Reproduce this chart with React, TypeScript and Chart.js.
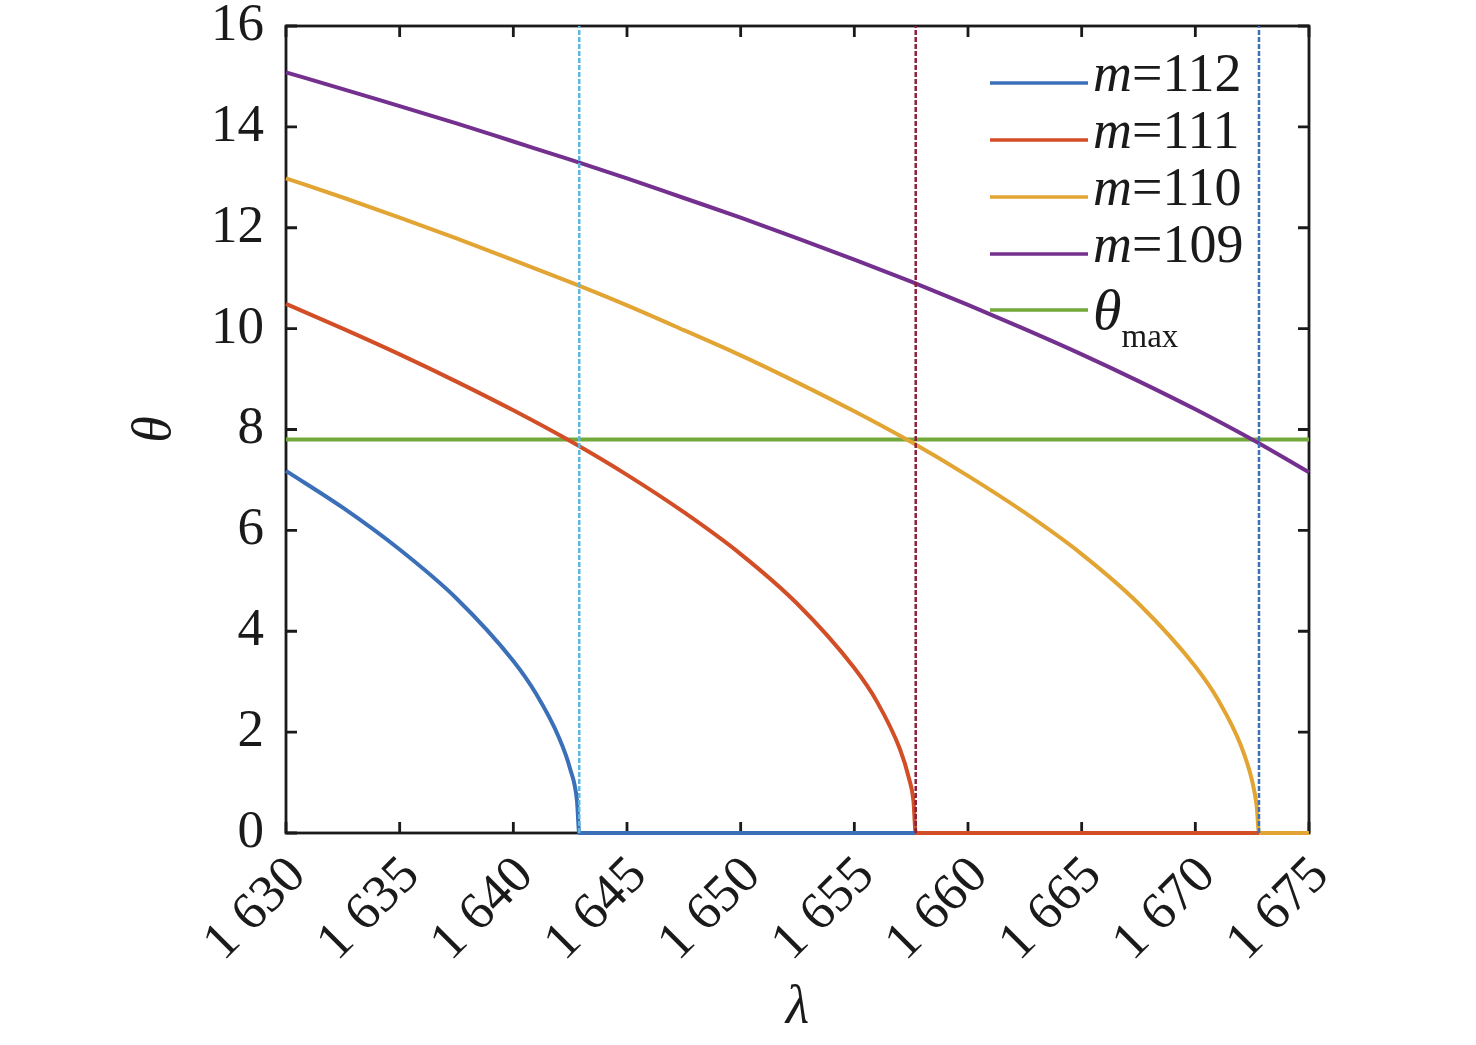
import { useEffect, useRef } from 'react';
import { Chart, registerables } from 'chart.js';

Chart.register(...registerables);

// wavelength (nm) and diffraction angle (deg)
const lambda112 = [1630, 1632.5, 1635, 1637.5, 1640, 1641, 1642, 1642.5, 1642.8, 1642.9, 1657.7];
const theta112 = [7.18, 6.45, 5.62, 4.65, 3.41, 2.76, 1.9, 1.27, 0.64, 0, 0];

const lambda111 = [1630, 1632.5, 1635, 1637.5, 1640, 1642.5, 1645, 1647.5, 1650, 1652.5, 1655, 1656, 1657, 1657.4, 1657.6, 1657.7, 1672.8];
const theta111 = [10.49, 10.0, 9.49, 8.95, 8.38, 7.77, 7.1, 6.36, 5.53, 4.54, 3.27, 2.6, 1.67, 1.09, 0.64, 0, 0];

const lambda110 = [1630, 1632.5, 1635, 1637.5, 1640, 1642.5, 1645, 1647.5, 1650, 1652.5, 1655, 1657.5, 1660, 1662.5, 1665, 1667.5, 1670, 1671, 1672, 1672.5, 1672.7, 1672.8, 1675];
const theta110 = [12.98, 12.6, 12.2, 11.79, 11.36, 10.92, 10.46, 9.97, 9.47, 8.93, 8.36, 7.75, 7.08, 6.35, 5.53, 4.55, 3.3, 2.64, 1.74, 1.03, 0.53, 0, 0];

const lambda109 = [1630, 1632.5, 1635, 1637.5, 1640, 1642.5, 1645, 1647.5, 1650, 1652.5, 1655, 1657.5, 1660, 1662.5, 1665, 1667.5, 1670, 1672.5, 1675];
const theta109 = [15.08, 14.75, 14.41, 14.07, 13.71, 13.35, 12.98, 12.59, 12.2, 11.79, 11.37, 10.93, 10.47, 9.99, 9.49, 8.96, 8.4, 7.8, 7.15];

const thetaMax = 7.8;
const lambdaRange = [1630, 1675];

// vertical dashed markers where each order's angle hits zero
const cutoffLambda = [1642.9, 1657.7, 1672.8];
const cutoffColors = ['#5DB7DF', '#8E1F3C', '#3A70B6'];

const seriesLabels = ['112', '111', '110', '109'];
const seriesColors = ['#3B6FB8', '#D24E27', '#E2A533', '#74308E'];
const maxColor = '#72A93A';

const FONT = "'Liberation Serif', 'Times New Roman', serif";
const INK = '#1a1a1a';

const toPoints = (xs: number[], ys: number[]) => xs.map((x, i) => ({ x, y: ys[i] }));

const framePlugin = {
  id: 'frame',
  beforeDatasetsDraw(chart: any) {
    const { ctx, chartArea } = chart;
    const { left, right, top, bottom } = chartArea;
    const xs = chart.scales.x;
    const ys = chart.scales.y;
    ctx.save();
    ctx.strokeStyle = INK;
    ctx.lineWidth = 2.8;
    ctx.strokeRect(left, top, right - left, bottom - top);
    const tl = 11;
    ctx.beginPath();
    xs.ticks.forEach((t: any) => {
      const px = xs.getPixelForValue(t.value);
      ctx.moveTo(px, bottom);
      ctx.lineTo(px, bottom - tl);
      ctx.moveTo(px, top);
      ctx.lineTo(px, top + tl);
    });
    ys.ticks.forEach((t: any) => {
      const py = ys.getPixelForValue(t.value);
      ctx.moveTo(left, py);
      ctx.lineTo(left + tl, py);
      ctx.moveTo(right, py);
      ctx.lineTo(right - tl, py);
    });
    ctx.stroke();

    // axis titles
    ctx.fillStyle = INK;
    ctx.textAlign = 'center';
    ctx.textBaseline = 'middle';
    ctx.font = `italic 54px ${FONT}`;
    ctx.fillText('λ', (left + right) / 2, bottom + 176);
    ctx.save();
    ctx.translate(left - 130, (top + bottom) / 2);
    ctx.rotate(-Math.PI / 2);
    ctx.fillText('θ', 0, 0);
    ctx.restore();
    ctx.restore();
  },
  afterDatasetsDraw(chart: any) {
    const { ctx } = chart;
    ctx.save();
    // legend
    const lx0 = 990;
    const lx1 = 1088;
    const rows = [83, 140, 197, 254, 310];
    ctx.fillStyle = INK;
    ctx.textAlign = 'left';
    ctx.textBaseline = 'alphabetic';
    ctx.lineWidth = 3.5;
    rows.forEach((ry, i) => {
      ctx.strokeStyle = i < 4 ? seriesColors[i] : maxColor;
      ctx.beginPath();
      ctx.moveTo(lx0, ry);
      ctx.lineTo(lx1, ry);
      ctx.stroke();
      let tx = 1093;
      if (i < 4) {
        ctx.font = `italic 54px ${FONT}`;
        ctx.fillText('m', tx, ry + 8);
        tx += ctx.measureText('m').width;
        ctx.font = `54px ${FONT}`;
        ctx.fillText('=' + seriesLabels[i], tx, ry + 8);
      } else {
        ctx.font = `italic 58px ${FONT}`;
        ctx.fillText('θ', tx, ry + 19);
        tx += ctx.measureText('θ').width;
        ctx.font = `33px ${FONT}`;
        ctx.fillText('max', tx, ry + 37);
      }
    });
    ctx.restore();
  },
};

const App = () => {
  const chartRef = useRef<HTMLCanvasElement>(null);
  const chartInstance = useRef<Chart | null>(null);

  useEffect(() => {
    document.body.style.margin = '0';
    if (!chartRef.current) return;
    if (chartInstance.current) chartInstance.current.destroy();
    const ctx = chartRef.current.getContext('2d');
    if (!ctx) return;

    const curves = [
      toPoints(lambda112, theta112),
      toPoints(lambda111, theta111),
      toPoints(lambda110, theta110),
      toPoints(lambda109, theta109),
    ];

    const datasets: any[] = [];
    cutoffLambda.forEach((l, i) => {
      datasets.push({
        data: [
          { x: l, y: 0 },
          { x: l, y: 16 },
        ],
        borderColor: cutoffColors[i],
        borderWidth: 2.5,
        borderDash: [5, 2],
        pointRadius: 0,
        clip: 4,
      });
    });
    curves.forEach((pts, i) => {
      datasets.push({
        label: 'm=' + seriesLabels[i],
        data: pts,
        borderColor: seriesColors[i],
        borderWidth: 4,
        pointRadius: 0,
        cubicInterpolationMode: 'monotone',
        clip: 4,
      });
    });
    datasets.push({
      label: 'θmax',
      data: lambdaRange.map((x) => ({ x, y: thetaMax })),
      borderColor: maxColor,
      borderWidth: 4,
      pointRadius: 0,
    });

    chartInstance.current = new Chart(ctx, {
      type: 'line',
      data: { datasets },
      options: {
        animation: false,
        responsive: false,
        maintainAspectRatio: false,
        layout: { padding: { top: 26, right: 167, bottom: 0, left: 0 } },
        plugins: { legend: { display: false }, tooltip: { enabled: false } },
        scales: {
          x: {
            type: 'linear',
            min: 1630,
            max: 1675,
            grid: { display: false, drawTicks: false },
            border: { display: false },
            afterFit: (s: any) => {
              s.height = 212;
              s.paddingLeft = 0;
              s.paddingRight = 0;
              s.paddingTop = 0;
              s.paddingBottom = 0;
            },
            ticks: {
              stepSize: 5,
              minRotation: 45,
              maxRotation: 45,
              padding: 12,
              labelOffset: 12,
              color: INK,
              font: { family: FONT, size: 53 },
              callback: (v: any) => {
                const s = String(v);
                return s.slice(0, 1) + ' ' + s.slice(1);
              },
            },
          },
          y: {
            min: 0,
            max: 16,
            grid: { display: false, drawTicks: false },
            border: { display: false },
            afterFit: (s: any) => {
              s.width = 286;
              s.paddingTop = 0;
              s.paddingBottom = 0;
              s.paddingLeft = 0;
              s.paddingRight = 0;
            },
            ticks: {
              stepSize: 2,
              padding: 22,
              color: INK,
              font: { family: FONT, size: 53 },
            },
          },
        },
      },
      plugins: [framePlugin],
    });

    return () => {
      if (chartInstance.current) {
        chartInstance.current.destroy();
        chartInstance.current = null;
      }
    };
  }, []);

  return (
    <div style={{ width: 1476, height: 1045, background: '#fff' }}>
      <canvas ref={chartRef} width={1476} height={1045} style={{ width: 1476, height: 1045 }}></canvas>
    </div>
  );
};

export default App;
